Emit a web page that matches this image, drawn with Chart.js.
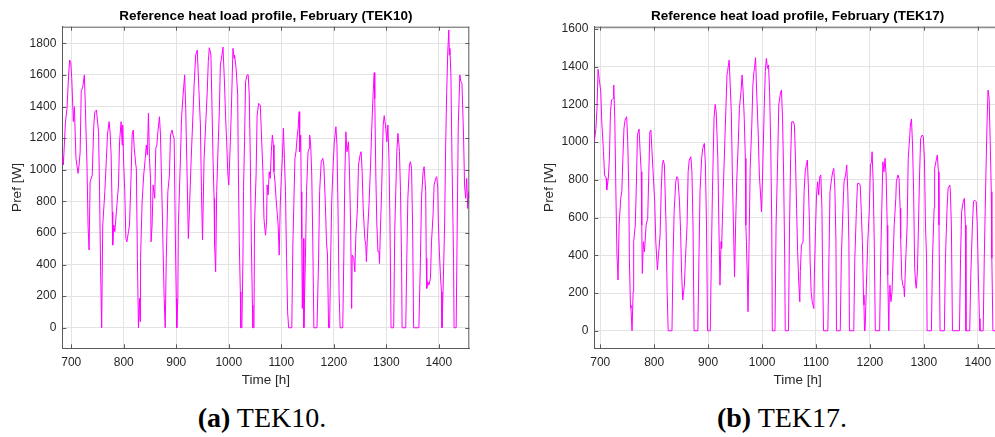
<!DOCTYPE html>
<html><head><meta charset="utf-8">
<script src="https://cdn.jsdelivr.net/npm/chart.js@4.4.1/dist/chart.umd.min.js"></script>
<style>
html,body{margin:0;padding:0;width:995px;height:437px;overflow:hidden;background:#fff;}
#wrap{position:relative;width:995px;height:437px;overflow:hidden;}
.panel{position:absolute;top:0;height:400px;}
.cap{position:absolute;font-family:'Liberation Serif','Times New Roman',Times,serif;font-size:28px;color:#000;white-space:nowrap;transform:translateX(-50%);line-height:1;}
</style></head><body>
<div id="wrap">
<div class="panel" style="left:0;width:500px"><canvas id="c1" width="500" height="400"></canvas></div>
<div class="panel" style="left:500px;width:510px"><canvas id="c2" width="510" height="400"></canvas></div>
<div class="cap" style="left:262px;top:404px"><b>(a)</b> TEK10.</div>
<div class="cap" style="left:782px;top:404px"><b>(b)</b> TEK17.</div>
</div>
<script>
// ---- Data (hours, heat load in W) ----
const hours10 = [684,685,689,692,695,697,699,701,704,706,
709,713,715,717,719,722,725,727,730,732,
734,736,740,743,745,748,752,754,756,758,
760,764,767,769,772,774,776,778,779,781,
783,786,790,792,795,797,798,800,802,804,
806,809,811,814,816,818,820,823,824,826,
828,830,831,832,835,838,841,843,845,847,
849,851,852,854,856,859,861,863,865,868,
870,871,873,875,877,879,881,884,887,889,
892,894,896,898,900,901,903,904,908,910,
913,916,918,920,923,925,928,931,934,937,
940,943,946,948,950,953,956,959,961,963,
966,968,970,972,973,975,977,980,982,984,
987,989,992,994,996,998,1000,1003,1005,1008,
1010,1011,1014,1017,1018,1020,1022,1023,1025,1027,
1028,1030,1032,1035,1037,1039,1041,1043,1045,1046,
1048,1049,1052,1054,1057,1060,1062,1065,1067,1068,
1070,1072,1073,1075,1077,1079,1081,1083,1085,1086,
1088,1090,1092,1094,1096,1098,1100,1102,1104,1106,
1108,1110,1112,1114,1120,1122,1124,1126,1128,1130,
1132,1134,1135,1137,1138,1139,1140,1142,1143,1146,
1148,1151,1153,1154,1156,1158,1160,1162,1168,1171,
1173,1176,1179,1181,1184,1186,1188,1190,1192,1194,
1196,1199,1201,1204,1206,1208,1210,1212,1217,1219,
1221,1223,1225,1228,1230,1232,1234,1235,1238,1240,
1242,1245,1247,1250,1252,1254,1256,1259,1261,1262,
1265,1267,1270,1272,1275,1277,1278,1280,1282,1284,
1286,1287,1289,1291,1294,1296,1299,1301,1303,1305,
1307,1309,1314,1316,1318,1320,1322,1323,1325,1327,
1329,1330,1337,1339,1341,1344,1346,1348,1350,1352,
1362,1365,1367,1370,1372,1375,1376,1377,1379,1381,
1384,1386,1389,1391,1394,1396,1398,1399,1401,1403,
1405,1406,1408,1411,1413,1415,1417,1419,1420,1421,
1423,1425,1428,1429,1433,1435,1437,1440,1442,1444,
1447,1449,1451,1453,1455,1457,1458];
const load10 = [1090,1030,1300,1390,1600,1694,1680,1578,1304,1399,
1072,977,1030,1114,1494,1525,1600,1388,1030,650,
492,924,966,1283,1367,1378,1240,861,354,0,
650,861,1072,1219,1304,1240,1093,734,523,650,
608,734,903,1177,1304,1156,1283,1030,861,565,
544,608,650,966,1219,1251,1135,1030,1009,439,
0,186,40,439,797,966,1072,1156,1093,1357,
1072,945,544,650,903,819,1135,1156,1240,1335,
1219,1072,797,481,186,0,439,861,966,1219,
1251,1219,1198,650,186,0,186,650,1072,1325,
1473,1600,1388,1072,565,734,1030,1283,1536,1726,
1757,1515,1283,861,555,1072,1283,1494,1684,1772,
1726,1409,1072,819,523,354,861,1177,1367,1662,
1726,1776,1536,1325,1177,987,903,1177,1388,1768,
1705,1726,1641,1473,1072,544,228,0,0,439,
861,1177,1557,1600,1600,1473,1072,544,143,0,
0,650,966,1346,1420,1409,1240,987,692,650,
586,671,903,840,987,945,1114,1219,1156,987,
924,819,734,650,460,776,945,1072,1262,1072,
861,439,101,0,0,523,797,1072,1114,1198,
1262,1367,1114,1219,861,565,122,565,0,439,
861,1114,1135,1219,1156,966,544,0,0,439,
861,1051,1072,1030,776,544,460,0,0,439,
800,1051,1177,1272,1156,755,228,0,0,439,
966,1240,1114,1177,966,650,122,460,439,354,
586,755,1030,1093,1114,987,755,565,523,418,
650,776,1030,1240,1494,1614,1450,966,650,481,
481,407,650,861,1283,1342,1262,1177,1283,1072,
650,0,0,608,861,1114,1230,1198,1114,861,
439,0,0,439,819,1030,1051,1009,650,0,
0,439,819,987,1019,861,439,249,291,270,
312,544,713,903,945,956,882,671,481,333,
228,0,228,650,1156,1494,1747,1884,1726,1768,
1600,1072,439,0,0,650,1283,1600,1557,1547,
1219,903,819,945,755,861,820];

const hours17 = [689,692,694,696,698,701,703,704,706,708,
711,712,715,717,719,721,724,725,727,729,
731,733,735,738,740,742,744,746,749,751,
753,754,756,757,759,761,762,765,767,769,
772,774,776,777,778,780,782,785,788,790,
792,794,796,799,801,803,806,808,811,813,
815,817,819,822,824,826,833,835,837,840,
842,844,847,849,851,853,856,858,861,863,
865,868,870,872,874,881,883,885,888,890,
893,895,897,899,904,906,908,911,913,915,
918,920,922,924,925,928,932,935,936,939,
941,943,945,947,949,951,953,956,958,961,
963,965,967,969,970,971,973,974,976,978,
981,983,985,986,988,990,993,995,998,999,
1001,1004,1006,1008,1010,1012,1014,1016,1018,1019,
1024,1026,1029,1031,1034,1036,1038,1040,1042,1043,
1049,1051,1053,1055,1058,1060,1062,1064,1066,1068,
1070,1071,1073,1076,1078,1080,1082,1084,1086,1088,
1089,1091,1093,1096,1097,1099,1101,1103,1105,1107,
1109,1111,1112,1114,1122,1124,1126,1129,1131,1133,
1135,1137,1138,1145,1147,1150,1152,1155,1157,1159,
1161,1162,1170,1172,1175,1177,1180,1182,1184,1186,
1188,1189,1190,1191,1194,1196,1199,1201,1203,1204,
1206,1208,1210,1218,1220,1222,1224,1226,1228,1230,
1232,1233,1235,1236,1237,1239,1241,1243,1245,1248,
1249,1252,1254,1256,1257,1259,1261,1263,1264,1266,
1269,1271,1274,1275,1277,1279,1281,1283,1285,1286,
1288,1290,1292,1294,1297,1299,1301,1303,1305,1306,
1314,1316,1319,1320,1323,1325,1327,1328,1330,1338,
1340,1343,1345,1348,1349,1351,1353,1366,1368,1370,
1373,1375,1377,1378,1385,1387,1390,1392,1394,1397,
1399,1401,1403,1404,1410,1412,1415,1417,1419,1421,
1423,1425,1426,1428,1440];
const load17 = [1002,1073,1179,1386,1338,1267,1096,1055,949,826,
808,746,808,914,1161,1223,1232,1303,1126,737,
401,269,560,702,737,914,1073,1117,1135,1002,
737,384,136,118,0,207,472,560,773,1038,
1069,949,843,560,304,472,419,560,596,826,
1055,1064,949,790,684,472,322,401,507,737,
879,905,879,560,207,0,0,384,631,790,
817,808,684,525,295,163,242,384,560,843,
905,923,843,560,0,0,384,737,914,967,
993,879,560,0,0,384,737,1126,1200,1161,
914,560,242,472,437,737,1091,1356,1374,1435,
1303,1161,826,560,286,560,790,1002,1179,1267,
1356,1267,1126,914,560,472,242,101,472,861,
1091,1303,1374,1391,1448,1267,1038,826,684,631,
826,1179,1374,1444,1391,1409,1267,1002,560,0,
0,560,914,1197,1259,1276,1126,826,384,0,
0,560,914,1108,1108,1091,914,649,419,260,
154,313,454,472,737,843,879,905,755,560,
384,207,154,118,295,525,719,790,719,817,
826,649,384,0,0,384,737,808,843,861,
755,472,0,0,384,649,790,826,879,737,
472,0,0,384,649,781,781,772,631,472,
189,136,0,0,295,472,649,879,896,949,
790,472,0,0,384,649,896,843,914,826,
560,295,0,207,242,154,207,384,560,702,
790,826,808,649,490,278,242,225,180,348,
560,914,1038,1091,1123,985,737,331,242,225,
313,560,826,1020,1038,1029,914,560,384,0,
0,384,649,861,905,932,843,560,0,0,
384,649,755,772,746,560,0,0,384,631,
684,702,560,0,0,295,560,684,693,684,
560,295,65,0,0,384,826,1091,1276,1232,
1002,737,384,0,0];

const xTicks = [700,800,900,1000,1100,1200,1300,1400];
const yTicks10 = [0,200,400,600,800,1000,1200,1400,1600,1800];
const yTicks17 = [0,200,400,600,800,1000,1200,1400,1600];

Chart.defaults.font.family = "'Liberation Sans', Arial, Helvetica, sans-serif";
Chart.defaults.color = '#262626';

const boxPlugin = {
  id: 'matlabBox',
  afterDraw(chart) {
    const {ctx, chartArea: {left, right, top, bottom}, scales: {x, y}} = chart;
    ctx.save();
    ctx.strokeStyle = '#5a5a5a';
    ctx.lineWidth = 1;
    ctx.beginPath();
    ctx.moveTo(left, top + 0.5); ctx.lineTo(right, top + 0.5);
    ctx.moveTo(right - 0.5, top); ctx.lineTo(right - 0.5, bottom);
    x.ticks.forEach(t => {
      const p = Math.round(x.getPixelForValue(t.value)) + 0.5;
      ctx.moveTo(p, bottom); ctx.lineTo(p, bottom - 4);
      ctx.moveTo(p, top); ctx.lineTo(p, top + 4);
    });
    y.ticks.forEach(t => {
      const p = Math.round(y.getPixelForValue(t.value)) + 0.5;
      ctx.moveTo(left, p); ctx.lineTo(left + 4, p);
      ctx.moveTo(right, p); ctx.lineTo(right - 4, p);
    });
    ctx.stroke();
    ctx.restore();
  }
};

function makeChart(id, hours, load, cfg) {
  const data = hours.map((h, i) => ({x: h, y: load[i]}));
  return new Chart(document.getElementById(id), {
    type: 'line',
    data: {datasets: [{data, borderColor: '#ff00ff', borderWidth: 1, pointRadius: 0, tension: 0, fill: false}]},
    options: {
      responsive: false,
      animation: false,
      devicePixelRatio: 1,
      layout: {autoPadding: false, padding: {left: cfg.padLeft, right: cfg.padRight, top: 0, bottom: 11.7}},
      plugins: {
        legend: {display: false},
        tooltip: {enabled: false},
        title: {display: true, text: cfg.title, fullSize: false, color: '#000',
                font: {size: 13.5, weight: 'bold'}, padding: {top: 8.6, bottom: 1.9}}
      },
      scales: {
        x: {
          type: 'linear', min: cfg.xmin, max: cfg.xmax,
          afterBuildTicks: s => { s.ticks = xTicks.map(v => ({value: v})); },
          afterFit: s => { s.height = 40; },
          grid: {color: '#e3e3e3', drawTicks: false},
          border: {display: true, color: '#5a5a5a', width: 1},
          ticks: {padding: 7, font: {size: 12}, color: '#262626', callback: v => String(v)},
          title: {display: true, text: 'Time [h]', font: {size: 13.5}, color: '#262626', padding: {top: 0, bottom: 0}}
        },
        y: {
          type: 'linear', min: cfg.ymin, max: cfg.ymax,
          afterBuildTicks: s => { s.ticks = cfg.yTicks.map(v => ({value: v})); },
          afterFit: s => { s.width = 62.3; },
          grid: {color: '#e3e3e3', drawTicks: false},
          border: {display: true, color: '#5a5a5a', width: 1},
          ticks: {padding: 6, font: {size: 12}, color: '#262626', callback: v => String(v)},
          title: {display: true, text: 'Pref [W]', font: {size: 13.5}, color: '#262626', padding: {top: 9.4, bottom: 0}}
        }
      }
    },
    plugins: [boxPlugin]
  });
}

makeChart('c1', hours10, load10, {
  title: 'Reference heat load profile, February (TEK10)',
  xmin: 683, xmax: 1458, ymin: -130, ymax: 1905, yTicks: yTicks10, padLeft: 0, padRight: 30.7
});
makeChart('c2', hours17, load17, {
  title: 'Reference heat load profile, February (TEK17)',
  xmin: 689, xmax: 1443, ymin: -93, ymax: 1612, yTicks: yTicks17, padLeft: 32, padRight: 9
});
</script>
</body></html>
